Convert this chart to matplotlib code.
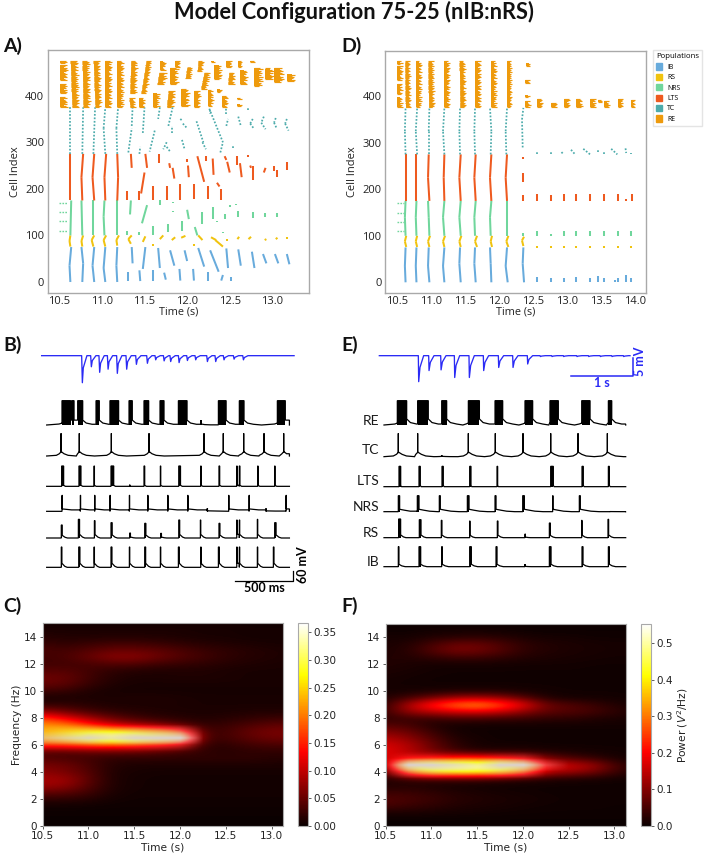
import matplotlib
matplotlib.use("Agg")
import matplotlib.pyplot as plt
from matplotlib.patches import Patch
import numpy as np

W, H = 708, 856
SANS = "Open Sans"
HEAD = "Lato"
GREY = "#a9a9a9"
POP_COLORS = {"IB": "#68abdc", "RS": "#f0c30f", "NRS": "#70d69c",
              "LTS": "#ee5a1f", "TC": "#4cabab", "RE": "#ee9a0c"}
RASTER_XT = [10.5, 11.0, 11.5, 12.0, 12.5, 13.0]
RASTER_XT_D = [10.5, 11.0, 11.5, 12.0, 12.5, 13.0, 13.5, 14.0]
RASTER_YT = [0, 100, 200, 300, 400]

# Raster strokes: (time at first cell, first cell, time at last cell, last cell)
A_IB = [(10.63,0,10.62,35),(10.62,35,10.64,75),(10.77,0,10.78,40),(10.78,40,10.76,75),(10.91,0,10.89,35),(10.89,35,10.91,75),
        (11.04,0,11.02,30),(11.02,30,11.04,75),(11.18,0,11.17,35),(11.17,35,11.18,75),
        (11.31,2,11.31,22),(11.45,2,11.44,25),(11.6,3,11.6,25),(11.75,5,11.73,20),(11.92,3,11.91,28),(12.08,3,12.07,28),
        (12.24,3,12.24,22),(12.4,3,12.42,15),(12.52,2,12.52,10),
        (11.36,40,11.35,75),(11.48,28,11.51,75),(11.68,30,11.66,73),(11.8,68,11.85,35),(11.97,68,12.0,45),(12.13,73,12.2,33),
        (12.27,68,12.37,22),(12.46,72,12.48,30),(12.6,70,12.63,35),(12.76,65,12.79,30),(12.89,60,12.93,40),
        (13.03,60,13.07,40),(13.17,60,13.2,38)]
A_RS = [(10.63,76,10.62,88),(10.62,88,10.63,100),(10.77,76,10.76,88),(10.76,88,10.78,100),(10.9,76,10.88,90),(10.88,90,10.91,100),
        (11.04,76,11.02,90),(11.02,90,11.05,100),(11.18,78,11.17,90),(11.17,90,11.2,100),(11.34,82,11.31,92),(11.31,92,11.35,100),
        (11.48,86,11.51,98),(11.6,78,11.6,82),(11.68,92,11.72,100),(11.82,90,11.86,96),(11.93,95,11.98,99),(12.08,78,12.08,82),
        (12.13,100,12.18,90),(12.28,96,12.34,90),(12.33,90,12.42,76),(12.47,88,12.47,93),(12.59,92,12.61,97),(12.72,92,12.75,97),
        (12.91,90,12.93,92),(13.04,92,13.06,95),(13.17,93,13.17,97)]
A_NRS = [(10.63,100,10.64,175),(10.77,100,10.76,175),(10.9,100,10.9,175),(11.03,100,11.02,140),(11.02,140,11.03,175),(11.18,100,11.18,175),
         (11.34,175,11.33,145),(11.3,100,11.3,110),(11.53,165,11.47,126),(11.44,100,11.44,108),(11.6,100,11.6,120),(11.68,165,11.68,175),
         (11.78,108,11.78,125),(11.83,170,11.83,172),(11.84,150,11.84,152),(11.94,110,11.94,130),(12.0,155,12.02,135),(12.09,118,12.12,100),
         (12.17,125,12.17,150),(12.3,135,12.3,160),(12.35,128,12.35,130),(12.45,135,12.45,145),(12.42,105,12.42,108),(12.6,140,12.6,152),
         (12.5,160,12.5,165),(12.57,165,12.57,168),(12.77,138,12.77,150),(12.91,140,12.91,148),(13.05,140,13.05,148)]
A_LTS = [(10.63,175,10.63,275),(10.77,175,10.76,225),(10.76,225,10.78,275),(10.91,175,10.89,225),(10.89,225,10.91,275),
         (11.04,175,11.03,225),(11.03,225,11.05,275),(11.18,175,11.19,225),(11.19,225,11.18,275),
         (11.34,275,11.35,245),(11.3,175,11.3,195),(11.51,275,11.53,245),(11.5,235,11.46,190),(11.43,175,11.43,195),(11.6,175,11.6,205),
         (11.67,275,11.67,255),(11.76,175,11.76,205),(11.79,255,11.8,245),(11.83,245,11.85,222),(11.92,175,11.92,210),(12.0,265,12.0,258),
         (12.01,250,12.02,225),(12.08,178,12.08,210),(12.12,270,12.2,215),(12.22,270,12.22,260),(12.24,178,12.24,205),(12.3,265,12.31,230),
         (12.4,175,12.4,200),(12.35,213,12.38,205),(12.44,270,12.46,262),(12.47,258,12.5,235),(12.58,270,12.58,252),(12.62,255,12.64,225),
         (12.72,272,12.72,268),(12.74,250,12.75,245),(12.77,250,12.77,220),(12.9,235,12.92,245),(13.02,250,13.02,238),(13.05,240,13.05,225),
         (13.17,258,13.17,240)]
A_TC = [(10.63,275,10.63,375),(10.77,275,10.78,375),(10.9,275,10.92,375),(11.04,275,11.02,330),(11.02,330,11.04,375),(11.18,275,11.17,330),
        (11.17,330,11.19,375),(11.31,278,11.35,330),(11.35,335,11.36,375),(11.48,320,11.5,375),(11.44,275,11.45,290),(11.68,375,11.66,350),
        (11.62,325,11.56,280),(11.76,300,11.72,285),(11.83,375,11.78,335),(11.82,320,11.82,335),(11.76,290,11.8,280),(11.92,350,11.95,345),
        (11.94,305,11.97,285),(11.95,340,12.0,330),(12.11,345,12.19,300),(12.18,300,12.22,285),(12.27,370,12.27,360),(12.26,372,12.42,300),
        (12.39,278,12.42,300),(12.46,360,12.46,375),(12.46,335,12.48,350),(12.54,288,12.54,292),(12.6,355,12.63,335),(12.72,370,12.72,375),
        (12.77,350,12.74,340),(12.74,340,12.78,330),(12.9,355,12.87,342),(12.87,342,12.92,328),(13.04,352,13.02,342),(13.02,342,13.05,330),
        (13.17,350,13.15,340),(13.15,340,13.19,325)]
# RE bursts also carry the horizontal extent of the spike train
A_RE = [(10.51,376,10.51,398,.09),(10.51,405,10.51,426,.09),(10.51,434,10.51,466,.09),(10.51,470,10.51,475,.09),
        (10.65,376,10.63,475,.09),(10.78,376,10.77,475,.09),(10.92,376,10.9,475,.08),(11.04,376,11.04,475,.08),(11.18,376,11.18,475,.08),
        (11.33,405,11.34,475,.08),(11.33,376,11.32,395,.07),(11.44,376,11.44,395,.07),(11.46,405,11.52,475,.07),(11.6,376,11.6,405,.08),
        (11.68,455,11.68,475,.07),(11.65,425,11.67,450,.1),(11.76,376,11.78,410,.09),(11.86,462,11.86,475,.06),(11.8,425,11.8,460,.1),
        (11.93,378,11.93,415,.1),(11.98,437,12.0,462,.07),(12.08,376,12.08,410,.08),(12.12,452,12.13,475,.07),(12.28,473,12.28,475,.07),
        (12.16,415,12.2,450,.08),(12.24,378,12.24,412,.07),(12.32,435,12.32,465,.09),(12.41,376,12.41,400,.07),(12.35,408,12.35,415,.06),
        (12.46,462,12.46,475,.07),(12.48,425,12.49,450,.08),(12.58,378,12.58,382,.07),(12.58,392,12.58,395,.07),(12.6,462,12.6,475,.05),
        (12.62,425,12.62,455,.09),(12.74,472,12.74,475,.07),(12.78,420,12.78,460,.11),(12.91,435,12.91,458,.11),(13.02,430,13.02,460,.12),
        (13.17,432,13.17,447,.1)]

D_IB = [(10.63,0,10.62,35),(10.62,35,10.63,75),(10.79,0,10.78,35),(10.78,35,10.79,75),(10.98,0,10.96,35),(10.96,35,10.97,75),
        (11.2,0,11.18,35),(11.18,35,11.2,75),(11.44,0,11.42,40),(11.42,40,11.43,75),(11.66,0,11.64,40),(11.64,40,11.65,75),
        (11.89,0,11.88,40),(11.88,40,11.87,75),(12.13,0,12.1,35),(12.1,35,12.12,75),(12.37,0,12.35,40),(12.35,40,12.36,75),
        (12.56,0,12.56,12),(12.77,0,12.77,10),(12.95,0,12.95,10),(13.13,0,13.13,12),(13.34,0,13.34,10),(13.45,0,13.45,14),
        (13.54,0,13.54,10),(13.7,0,13.7,5),(13.75,0,13.75,10),(13.86,0,13.86,15),(13.94,0,13.94,10)]
D_RS = [(10.64,76,10.62,88),(10.62,88,10.64,100),(10.8,76,10.78,88),(10.78,88,10.8,100),(10.98,76,10.96,88),(10.96,88,10.99,100),
        (11.2,76,11.18,88),(11.18,88,11.21,100),(11.44,76,11.42,88),(11.42,88,11.45,100),(11.68,76,11.65,88),(11.65,88,11.68,100),
        (11.9,76,11.88,88),(11.88,88,11.9,100),(12.14,76,12.11,88),(12.11,88,12.14,100),(12.36,78,12.34,90),(12.34,90,12.37,98),
        (12.56,74,12.56,78),(12.77,74,12.77,78),(12.95,74,12.95,78),(13.13,74,13.13,78),(13.34,74,13.34,78),(13.54,74,13.54,78),
        (13.75,74,13.75,78),(13.94,74,13.94,77)]
D_NRS = [(10.63,100,10.62,140),(10.62,140,10.63,175),(10.79,100,10.78,140),(10.78,140,10.79,175),(10.98,100,10.97,140),(10.97,140,10.96,175),
         (11.2,100,11.18,140),(11.18,140,11.2,175),(11.44,100,11.42,140),(11.42,140,11.44,175),(11.65,100,11.64,140),(11.64,140,11.66,175),
         (11.88,100,11.87,140),(11.87,140,11.89,175),(12.12,100,12.12,175),(12.35,100,12.35,107),
         (12.56,100,12.56,110),(12.77,100,12.77,104),(12.95,100,12.95,110),(13.13,100,13.13,110),(13.34,100,13.34,110),(13.54,100,13.54,110),
         (13.75,100,13.75,110),(13.94,100,13.94,110)]
D_LTS = [(10.63,175,10.63,275),(10.79,175,10.79,275),(10.98,175,10.96,225),(10.96,225,10.97,275),(11.2,175,11.19,225),(11.19,225,11.2,275),
         (11.44,175,11.42,225),(11.42,225,11.44,275),(11.66,175,11.64,225),(11.64,225,11.66,275),(11.89,175,11.87,225),(11.87,225,11.89,275),
         (12.12,175,12.1,225),(12.1,225,12.12,275),(12.35,265,12.35,270),(12.35,215,12.35,235),(12.35,175,12.35,188),
         (12.56,175,12.56,190),(12.77,175,12.77,188),(12.95,175,12.95,190),(13.13,175,13.13,190),(13.34,175,13.34,190),(13.54,175,13.54,190),
         (13.75,175,13.75,190),(13.87,175,13.87,180),(13.96,175,13.96,190)]
D_TC = [(10.63,275,10.62,325),(10.62,325,10.63,375),(10.8,275,10.78,325),(10.78,325,10.8,375),(10.97,275,10.97,325),(10.97,325,10.98,375),
        (11.2,275,11.18,325),(11.18,325,11.2,375),(11.43,275,11.42,325),(11.42,325,11.43,375),(11.65,275,11.64,325),(11.64,325,11.65,375),
        (11.88,275,11.89,325),(11.89,325,11.87,375),(12.11,275,12.1,325),(12.1,325,12.12,375),(12.35,290,12.34,350),(12.34,350,12.36,375),
        (12.56,275,12.56,282),(12.77,275,12.77,280),(12.92,280,12.95,275),(13.06,285,13.12,275),(13.24,287,13.34,275),(13.45,280,13.45,287),
        (13.54,275,13.54,280),(13.65,287,13.74,275),(13.86,288,13.87,278),(13.94,275,13.94,278)]
D_RE = [(10.5,376,10.5,398,.09),(10.5,405,10.5,426,.09),(10.5,434,10.5,466,.09),(10.5,470,10.5,475,.09),
        (10.63,376,10.62,475,.08),(10.78,376,10.78,475,.09),(10.97,376,10.96,475,.09),(11.2,376,11.2,475,.08),
        (11.43,376,11.42,475,.09),(11.65,376,11.65,475,.09),(11.88,376,11.88,475,.09),(12.12,376,12.12,475,.07),
        (12.38,376,12.38,390,.09),(12.38,398,12.38,402,.08),(12.38,428,12.38,436,.08),(12.4,465,12.4,472,.07),
        (12.56,376,12.56,394,.09),(12.77,376,12.77,386,.09),(12.95,376,12.95,394,.1),(13.13,376,13.13,394,.1),
        (13.34,376,13.34,394,.09),(13.46,387,13.46,392,.07),(13.55,376,13.55,390,.08),(13.75,376,13.75,394,.08),(13.94,376,13.94,392,.06)]
# Comb lengths of the RE spike rows, as a share of the burst extent
RE_TEETH = [1.0, 0.7, 0.85, 0.6, 0.95, 0.75, 0.6, 0.9, 0.65, 0.8]
# Isolated NRS rows before network onset: cells, start and stop time
NRS_ROWS = [110, 130, 150, 170]
NRS_SPAN_A = (10.5, 10.59)
NRS_SPAN_D = (10.5, 10.6)

# Membrane traces: (onset ms, burst width ms, amplitude mV)
B_RE = [(131,74,146),(214,20,146),(265,43,146),(422,28,146),(541,74,146),(704,28,146),(832,40,146),(969,34,146),(1126,74,146),
        (1320,0,30),(1468,66,146),(1647,40,146),(1972,68,146)]
B_TC = [(t,0,136) for t in (123,279,553,875,1345,1510,1684,1858,2026)]
B_LTS = [(128,17,122),(276,17,122),(405,3,122),(550,23,122),(710,0,10),(832,6,122),(972,3,122),(1129,15,122),(1317,3,122),
         (1473,6,122),(1625,3,122),(1647,5,122),(1804,3,122),(1949,3,122)]
B_NRS = [(131,2,96),(288,2,96),(410,2,96),(541,2,96),(707,2,96),(864,2,96),(1035,2,96),(1206,2,96),(1374,0,20),(1556,2,96),
         (1730,2,96),(1875,0,18),(2046,2,96)]
B_RS = [(125,8,78),(271,10,112),(408,5,104),(550,10,92),(710,6,30),(838,10,88),(975,6,28),(1129,8,108),(1314,3,108),(1473,8,88),
        (1625,3,108),(1647,3,108),(1801,3,112),(1949,12,92)]
B_IB = [(125,5,122),(274,10,122),(405,3,122),(550,8,122),(707,3,122),(838,8,122),(972,3,122),(1126,8,122),(1317,3,122),(1468,8,122),
        (1625,3,122),(1647,3,122),(1801,3,122),(1938,5,122)]
E_RE = [(214,150,146),(540,171,146),(926,80,146),(1354,177,146),(1782,123,146),(2263,123,146),(2664,134,146),(3173,134,146),(3601,54,146)]
E_TC = [(230,0,140),(540,0,140),(926,0,10),(1354,0,140),(1787,0,140),(2231,0,140),(2675,0,140),(3114,0,140),(3585,0,140)]
E_LTS = [(241,27,122),(562,21,122),(931,21,122),(1375,21,122),(1814,10,122),(2675,43,122),(3178,21,122),(3601,16,122)]
E_NRS = [(230,21,96),(535,27,96),(888,16,96),(1338,27,96),(1782,16,96),(2226,27,96),(2707,5,96),(3135,16,96),(3627,0,4)]
E_RS = [(235,32,112),(567,27,108),(920,10,104),(1375,5,100),(1819,10,100),(2263,5,22),(2654,16,88),(3173,5,104),(3595,10,110)]
E_IB = [(230,10,120),(562,27,120),(926,10,120),(1375,27,120),(1798,16,120),(2263,0,16),(2654,27,120),(3178,16,120),(3601,16,120)]
# Tail after each spike: (ms after burst, share of the amplitude)
TAIL_RE_B = [(0,.2),(30,.08),(80,.03),(150,0)]
TAIL_RE_E = [(0,.25),(60,.1),(160,.04),(260,0)]
TAIL_TC_B = [(0,.2),(25,.1),(60,.03),(130,0)]
TAIL_TC_E = [(0,.2),(60,.1),(130,.03),(260,0)]
TAIL_SHARP = [(0,.05),(15,0)]
TAIL_SOFT = [(0,.2),(25,.05),(45,0)]
TAIL_NRS = [(0,.15),(80,.09),(170,.03),(300,0)]
# Time-series ends and LFP dips (ms, depth in mV)
B_END, E_END = 2075, 3879
B_LFP = [(299,7.8),(376,3.2),(447,4.8),(519,3.9),(598,5.1),(678,3.9),(761,2.5),(855,2.2),(926,1.2),(998,1.5),(1054,1.7),(1126,2.0),
         (1197,1.4),(1268,1.2),(1368,1.7),(1439,1.7),(1510,1.2),(1596,1.0),(1676,1.2)]
E_LFP = [(551,7.5),(717,4.3),(910,4.1),(1129,6.3),(1364,6.3),(1594,4.3),(1835,3.4),(2065,3.4),(2300,2.4),(2504,.25),(2691,.25),
         (2878,.25),(3092,.25),(3280,.25),(3467,.25),(3654,.25),(3841,.25)]
LFP_SPAN_B = (-43, 2115)
LFP_SPAN_E = (-75, 3948)
TRACE_NAMES = ["RE", "TC", "LTS", "NRS", "RS", "IB"]

# Spectrogram grid: time columns, frequency rows (highest first)
SPEC_T = [10.5, 10.75, 11.0, 11.25, 11.5, 11.75, 12.0, 12.25, 12.5, 12.75, 13.0, 13.25]
SPEC_F = [15, 14.5, 14, 13.5, 13, 12.5, 12, 11.5, 11, 10.5, 10, 9.5, 9, 8.5, 8, 7.5, 7, 6.5, 6, 5.5, 5, 4.5, 4, 3.5, 3, 2.5, 2, 1.5, 1, .5, 0]
POWER_C = [
 [.005,.005,.005,.005,.005,.005,.005,.005,.005,.005,.005,.005],
 [.01,.01,.01,.01,.01,.01,.01,.008,.008,.006,.006,.006],
 [.015,.012,.012,.012,.012,.012,.01,.008,.008,.006,.006,.006],
 [.025,.02,.025,.03,.03,.025,.02,.015,.012,.01,.008,.008],
 [.035,.03,.04,.05,.05,.045,.035,.025,.02,.015,.012,.01],
 [.03,.035,.05,.07,.07,.055,.04,.03,.02,.015,.012,.01],
 [.03,.03,.035,.04,.04,.03,.025,.02,.015,.012,.01,.008],
 [.04,.04,.03,.02,.015,.012,.012,.012,.01,.008,.008,.008],
 [.055,.05,.03,.015,.01,.01,.012,.012,.01,.008,.008,.008],
 [.05,.045,.025,.012,.008,.008,.008,.008,.008,.008,.008,.008],
 [.03,.025,.012,.008,.006,.006,.006,.006,.006,.006,.006,.006],
 [.008,.01,.01,.01,.012,.012,.01,.008,.008,.008,.008,.008],
 [.02,.02,.015,.01,.01,.01,.01,.008,.008,.008,.008,.008],
 [.07,.05,.03,.02,.015,.012,.01,.01,.01,.012,.012,.012],
 [.16,.12,.08,.05,.03,.02,.015,.012,.015,.02,.025,.025],
 [.21,.2,.15,.1,.08,.06,.04,.02,.025,.035,.045,.045],
 [.23,.25,.27,.28,.25,.22,.18,.03,.03,.05,.06,.06],
 [.23,.26,.31,.36,.34,.3,.27,.03,.03,.045,.055,.055],
 [.17,.17,.18,.19,.17,.15,.12,.02,.02,.03,.035,.035],
 [.04,.04,.05,.05,.05,.04,.03,.02,.015,.02,.02,.02],
 [.04,.035,.03,.02,.02,.02,.02,.02,.02,.02,.015,.015],
 [.06,.055,.035,.015,.01,.01,.01,.01,.01,.01,.01,.01],
 [.07,.06,.04,.012,.008,.006,.006,.006,.006,.006,.006,.006],
 [.085,.08,.045,.012,.006,.005,.005,.005,.005,.005,.005,.005],
 [.08,.075,.04,.012,.006,.005,.005,.005,.005,.005,.005,.005],
 [.05,.045,.03,.01,.005,.005,.005,.005,.005,.005,.005,.005],
 [.02,.02,.015,.006,.004,.004,.004,.004,.004,.004,.004,.004],
 [.005,.005,.004,.003,.003,.003,.003,.003,.003,.003,.003,.003],
 [.002,.002,.002,.002,.002,.002,.002,.002,.002,.002,.002,.002],
 [.001,.001,.001,.001,.001,.001,.001,.001,.001,.001,.001,.001],
 [0,0,0,0,0,0,0,0,0,0,0,0]]
POWER_F = [
 [.003,.003,.003,.003,.003,.003,.003,.003,.003,.003,.003,.003],
 [.005,.005,.008,.01,.01,.008,.005,.004,.004,.004,.004,.004],
 [.01,.01,.02,.025,.03,.025,.015,.01,.01,.006,.006,.006],
 [.015,.02,.05,.08,.08,.055,.03,.02,.015,.012,.01,.01],
 [.015,.025,.06,.09,.085,.06,.03,.02,.015,.012,.01,.01],
 [.02,.02,.03,.04,.04,.03,.02,.015,.012,.01,.008,.008],
 [.02,.015,.01,.01,.01,.01,.008,.008,.008,.006,.006,.006],
 [.015,.012,.008,.006,.006,.006,.006,.006,.006,.006,.006,.006],
 [.012,.008,.006,.006,.006,.006,.006,.006,.006,.006,.006,.006],
 [.008,.008,.006,.006,.006,.006,.006,.006,.006,.006,.006,.006],
 [.01,.012,.015,.02,.02,.02,.012,.008,.006,.006,.006,.006],
 [.02,.05,.09,.13,.14,.12,.07,.02,.01,.01,.008,.006],
 [.03,.14,.23,.3,.33,.27,.19,.08,.06,.04,.02,.01],
 [.04,.12,.15,.17,.18,.16,.11,.07,.06,.05,.03,.015],
 [.03,.04,.04,.05,.05,.04,.04,.03,.03,.02,.015,.01],
 [.06,.05,.02,.01,.008,.008,.008,.008,.008,.008,.008,.008],
 [.1,.08,.04,.01,.006,.005,.005,.005,.005,.005,.005,.005],
 [.14,.11,.06,.02,.01,.005,.005,.005,.005,.005,.005,.005],
 [.17,.14,.08,.03,.01,.008,.008,.006,.006,.006,.006,.006],
 [.18,.14,.09,.05,.03,.03,.03,.02,.015,.01,.008,.006],
 [.16,.2,.22,.26,.27,.23,.2,.1,.06,.04,.015,.008],
 [.12,.45,.52,.54,.55,.52,.4,.2,.16,.13,.05,.02],
 [.06,.3,.4,.42,.42,.38,.3,.14,.12,.09,.04,.015],
 [.02,.04,.05,.05,.05,.04,.03,.02,.015,.012,.008,.006],
 [.02,.02,.015,.01,.008,.006,.006,.005,.005,.005,.005,.005],
 [.04,.04,.03,.02,.015,.01,.008,.006,.005,.005,.005,.005],
 [.06,.05,.04,.025,.02,.015,.012,.008,.006,.005,.005,.005],
 [.05,.04,.03,.02,.015,.012,.008,.006,.005,.005,.004,.004],
 [.015,.015,.012,.01,.008,.006,.005,.004,.004,.004,.004,.004],
 [.002,.002,.002,.002,.002,.002,.002,.002,.002,.002,.002,.002],
 [0,0,0,0,0,0,0,0,0,0,0,0]]
VMAX_C, VMAX_F = 0.366, 0.553
CB_TICKS_C = [0, .05, .10, .15, .20, .25, .30, .35]
CB_TICKS_F = [0, .1, .2, .3, .4, .5]
# Washed-out ridge along the dominant band: opacity on a few frequency rows
WASH_F = [7.5, 7, 6.5, 6, 5.5]
WASH_C = [[0]*12, [.1,.15,.2,.1,.3,.35,.35,0,0,0,0,0],
          [.5,.7,.9,.55,.95,1,1,0,0,0,0,0],
          [.05,.05,.05,0,.1,.15,.15,0,0,0,0,0], [0]*12]
WASH_F_F = [5.5, 5, 4.5, 4, 3.5]
WASH_FP = [[0]*12, [0,.1,.1,0,0,.1,.15,0,0,0,0,0],
           [0,1,1,.7,.3,1,1,.3,0,0,0,0],
           [0,.3,.3,.15,.1,.3,.3,0,0,0,0,0], [0]*12]


def fig_axes(fig, x0, y0, x1, y1):
    return fig.add_axes([x0/W, 1-y1/H, (x1-x0)/W, (y1-y0)/H])


fig = plt.figure(figsize=(W/100, H/100), dpi=100)


def draw_raster(ax, strokes, re_bursts, rows, span, xticks, xlim):
    for pop, segs in strokes.items():
        for t0, c0, t1, c1 in segs:
            if pop == "TC":
                ax.plot([t0, t1], [c0, c1], color=POP_COLORS[pop], lw=1.25, ls=(0, (1.0, 1.0)), solid_capstyle="butt")
            else:
                ax.plot([t0, t1], [c0, c1], color=POP_COLORS[pop], lw=1.45, solid_capstyle="butt")
    for i, (t0, c0, t1, c1, w) in enumerate(re_bursts):
        cells = np.arange(c0, c1 + 0.5, 2.6)
        starts = np.interp(cells, [c0, c1], [t0, t1])
        core = 0.55 * w
        ax.fill_betweenx([c0, c1], [t0, t1], [t0+core, t1+core], color=POP_COLORS["RE"], lw=0)
        for j, (c, s) in enumerate(zip(cells, starts)):
            ax.plot([s, s + w*RE_TEETH[(j+i) % len(RE_TEETH)]], [c, c], color=POP_COLORS["RE"], lw=0.85, solid_capstyle="butt")
    for c in rows:
        ax.plot(span, [c, c], color=POP_COLORS["NRS"], lw=1.0, ls=(0, (1.2, 0.9)))
    ax.set_xlim(*xlim)
    ax.set_ylim(-23, 498)
    ax.set_xticks(xticks)
    ax.set_yticks(RASTER_YT)
    ax.tick_params(length=0, labelsize=8, pad=2.5, labelcolor="#222222")
    for lab in ax.get_xticklabels() + ax.get_yticklabels():
        lab.set_fontfamily(SANS)
    ax.set_xlabel("Time (s)", family=SANS, fontsize=7.8, labelpad=-0.5, color="#222222")
    ax.set_ylabel("Cell Index", family=SANS, fontsize=8, labelpad=3, color="#222222")
    for s in ax.spines.values():
        s.set_color(GREY)
        s.set_linewidth(1.0)


ax_a = fig_axes(fig, 47.7, 50, 309, 292.7)
draw_raster(ax_a, {"IB": A_IB, "RS": A_RS, "NRS": A_NRS, "LTS": A_LTS, "TC": A_TC}, A_RE, NRS_ROWS, NRS_SPAN_A, RASTER_XT, (10.364, 13.43))
ax_d = fig_axes(fig, 385, 50.7, 646, 293)
draw_raster(ax_d, {"IB": D_IB, "RS": D_RS, "NRS": D_NRS, "LTS": D_LTS, "TC": D_TC}, D_RE, NRS_ROWS, NRS_SPAN_D, RASTER_XT_D, (10.328, 14.161))

handles = [Patch(color=POP_COLORS[p], label=p) for p in ["IB", "RS", "NRS", "LTS", "TC", "RE"]]
leg = fig.legend(handles=handles, title="Populations", loc="upper left", bbox_to_anchor=(652.5/W, 1-50/H), borderaxespad=0,
                 frameon=True, fontsize=5.0, title_fontsize=5.6, handlelength=0.8, handleheight=1.0, handletextpad=0.8,
                 labelspacing=0.42, borderpad=0.5, fancybox=False, edgecolor="#e4e4e4", alignment="left", framealpha=1)
for t in leg.get_texts() + [leg.get_title()]:
    t.set_fontfamily(SANS)


def draw_trace(ax, events, base, tail, t_end, lead=None):
    xs, ys = [0], [base]
    for k, (t, w, a) in enumerate(events):
        nxt = events[k+1][0] if k + 1 < len(events) else t_end
        for dt, frac in (lead or []):
            if t + dt > xs[-1]:
                xs.append(t + dt)
                ys.append(base + frac*a)
        xs += [t, t]
        ys += [base if not lead else ys[-1], base + a]
        if w > 0:
            ax.fill_between([t, t+w], base, base + a, color="black", lw=0)
            xs.append(t + w)
            ys.append(base + a)
        for dt, frac in tail:
            if t + w + dt < nxt - 5:
                xs.append(t + w + dt)
                ys.append(base + frac*a)
        xs.append(min(t + w + tail[-1][0], nxt))
        ys.append(ys[-1])
    xs.append(t_end)
    ys.append(base)
    ax.plot(xs, ys, color="black", lw=0.9, solid_joinstyle="miter")


def draw_lfp(ax, dips, span, base):
    xs, ys = [span[0]], [base]
    for t, depth in dips:
        amp = depth * 20.8
        xs += [t, t + 6, t + 14*span[2], t + 45*span[2]]
        ys += [base, base - amp, base - amp*0.45, base]
    xs.append(span[1])
    ys.append(base)
    ax.plot(xs, ys, color="#2a2af5", lw=0.95)


ax_b = fig_axes(fig, 0, 330, 330, 600)
ax_b.set_xlim(-399, 2422)
ax_b.set_ylim(-1620, 0)
ax_b.axis("off")
draw_lfp(ax_b, B_LFP, (*LFP_SPAN_B, 1.0), -154)
LEAD_TC_B = [(-40,.03),(-15,.1),(-3,.17)]
draw_trace(ax_b, B_RE, -570, TAIL_RE_B, B_END, [(-25,.04),(-5,.07)])
draw_trace(ax_b, B_TC, -756, TAIL_TC_B, B_END, LEAD_TC_B)
draw_trace(ax_b, B_LTS, -938, TAIL_SHARP, B_END)
draw_trace(ax_b, B_NRS, -1088, TAIL_NRS, B_END)
draw_trace(ax_b, B_RS, -1248, TAIL_SOFT, B_END)
draw_trace(ax_b, B_IB, -1424, TAIL_SOFT, B_END)
ax_b.plot([1610, 2109, 2109], [-1504, -1504, -1444], color="black", lw=0.9)
ax_b.text(1860, -1550, "500 ms", family=HEAD, weight="bold", fontsize=9, ha="center", va="center")
ax_b.text(2195, -1410, "60 mV", family=HEAD, weight="bold", fontsize=9, ha="center", va="center", rotation=90)

ax_e = fig_axes(fig, 340, 330, 670, 600)
ax_e.set_xlim(-706, 4590)
ax_e.set_ylim(-1620, 0)
ax_e.axis("off")
draw_lfp(ax_e, E_LFP, (*LFP_SPAN_E, 1.9), -154)
LEAD_TC_E = [(-80,.03),(-30,.1),(-5,.17)]
draw_trace(ax_e, E_RE, -570, TAIL_RE_E, E_END, [(-40,.04),(-8,.07)])
draw_trace(ax_e, E_TC, -760, TAIL_TC_E, E_END, LEAD_TC_E)
draw_trace(ax_e, E_LTS, -940, TAIL_SHARP, E_END)
draw_trace(ax_e, E_NRS, -1090, TAIL_NRS, E_END)
draw_trace(ax_e, E_RS, -1246, [(0,.15),(45,.04),(85,0)], E_END)
draw_trace(ax_e, E_IB, -1420, [(0,.12),(45,.04),(100,0)], E_END)
for name, zy in zip(TRACE_NAMES, [272, 360, 452, 532, 610, 695]):
    ax_e.text(-75, -2*zy, name, family=HEAD, fontsize=10, ha="right", va="center", color="#1a1a1a")
ax_e.plot([3001, 4002, 4002], [-274, -274, -170], color="#2a2af5", lw=1.1)
ax_e.text(3500, -320, "1 s", family=HEAD, weight="bold", fontsize=9, color="#2a2af5", ha="center", va="center")
ax_e.text(4110, -190, "5 mV", family=HEAD, weight="bold", fontsize=9, color="#2a2af5", ha="center", va="center", rotation=90)


def draw_spec(ax_box, cb_box, power, vmax, ticks, wash, wash_f, cb_fmt, ylabel, cb_label):
    ax = fig_axes(fig, *ax_box)
    grid = np.array(power)
    half_t = (SPEC_T[1]-SPEC_T[0]) / 2
    half_f = (SPEC_F[0]-SPEC_F[1]) / 2
    im = ax.imshow(grid, cmap="hot", vmin=0, vmax=vmax, aspect="auto", interpolation="bicubic",
                   extent=[SPEC_T[0]-half_t, SPEC_T[-1]+half_t, SPEC_F[-1]-half_f, SPEC_F[0]+half_f])
    alpha = np.clip(np.array(wash, dtype=float), 0, 1)
    rgba = np.ones(alpha.shape + (4,))
    rgba[..., :3] = (0.86, 0.82, 0.82)
    rgba[..., 3] = alpha
    ax.imshow(rgba, aspect="auto", interpolation="bilinear",
              extent=[SPEC_T[0]-half_t, SPEC_T[-1]+half_t, wash_f[-1]-half_f, wash_f[0]+half_f])
    ax.set_xlim(10.5, 13.127)
    ax.set_ylim(0, 15)
    ax.set_xticks([10.5, 11.0, 11.5, 12.0, 12.5, 13.0])
    ax.set_yticks(range(0, 16, 2))
    ax.tick_params(labelsize=7.5, length=2.4, width=0.6, pad=1.5, labelcolor="#222222", color="#444444")
    ax.set_xlabel("Time (s)", fontsize=7.7, labelpad=1, color="#222222")
    if ylabel:
        ax.set_ylabel(ylabel, fontsize=7.7, labelpad=1.5, color="#222222")
    for s in ax.spines.values():
        s.set_color(GREY)
        s.set_linewidth(0.8)
    cax = fig_axes(fig, *cb_box)
    cb = fig.colorbar(im, cax=cax, ticks=ticks, format=cb_fmt)
    cb.ax.tick_params(labelsize=7.5, length=2.4, width=0.6, pad=1.5, labelcolor="#222222", color="#444444")
    cb.outline.set_edgecolor(GREY)
    cb.outline.set_linewidth(0.8)
    if cb_label:
        cb.set_label(cb_label, fontsize=7.7, labelpad=2, color="#222222")


draw_spec((42.7, 623.3, 283.3, 826), (298, 623.3, 308, 826), POWER_C, VMAX_C, CB_TICKS_C, WASH_C, WASH_F, "%.2f", "Frequency (Hz)", None)
draw_spec((385.7, 624, 626, 826), (640.7, 624, 650.7, 826), POWER_F, VMAX_F, CB_TICKS_F, WASH_FP, WASH_F_F, "%.1f", None, r"Power ($V^2$/Hz)")

fig.text(354/W, 1-12/H, "Model Configuration 75-25 (nIB:nRS)", family=HEAD, weight="bold", fontsize=15.7, ha="center", va="center", color="#111111")
for lab, x, y in [("A)", 3, 46), ("B)", 3, 345), ("C)", 3, 606), ("D)", 341, 46), ("E)", 341, 345), ("F)", 341, 606)]:
    fig.text(x/W, 1-y/H, lab, family=HEAD, weight="bold", fontsize=14, ha="left", va="center", color="#111111")

fig.savefig("out.png", dpi=100)
